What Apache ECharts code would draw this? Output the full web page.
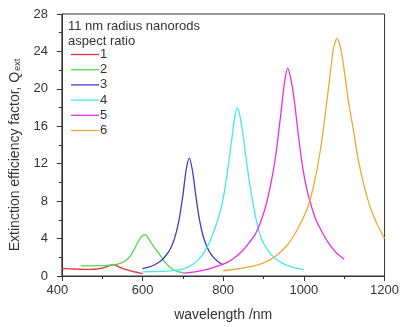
<!DOCTYPE html>
<html><head><meta charset="utf-8">
<script src="https://cdn.jsdelivr.net/npm/echarts@6/dist/echarts.min.js"></script>
<style>html,body{margin:0;padding:0;background:#fff}#c{width:402px;height:327px}</style>
</head><body><div id="c"></div>
<script>
var seriesNames = ['1','2','3','4','5','6'];
var colors = ['#e8303a','#4ddc4d','#3c3cc4','#40ecec','#ec2cec','#f0aa30'];
var xTicks = [400,600,800,1000,1200];
var yTicks = [0,4,8,12,16,20,24,28];

var wl1 = [400,420,440,460,480,500,510,518,525,532,540,550,560,570,580,590,600];
var q1  = [0.8,0.77,0.73,0.7,0.72,0.85,0.98,1.12,1.22,1.15,1.0,0.82,0.68,0.55,0.45,0.35,0.25];

var wl2 = [447,470,500,520,535,545,555,565,572,580,587,594,600,606,612,618,625,632,640,648,656,664,672,680,690,700];
var q2  = [1.09,1.09,1.1,1.15,1.25,1.35,1.55,1.9,2.3,2.9,3.5,4.0,4.3,4.43,4.2,3.8,3.3,2.9,2.45,1.95,1.45,1.1,0.8,0.6,0.45,0.35];

var wl3 = [600,615,630,645,660,670,680,690,700,708,716,724,732,740,750,760,770,780,790,800];
var q3  = [0.8,0.95,1.2,1.6,2.3,3.0,4.1,5.9,8.6,11.3,12.6,11.2,8.6,6.3,4.3,3.1,2.3,1.8,1.45,1.2];

var wl4 = [600,630,660,690,710,725,740,752,765,778,790,800,810,820,828,835,842,850,860,870,880,890,900,915,930,945,960,980,1000];
var q4  = [0.45,0.47,0.52,0.65,0.9,1.25,1.8,2.5,3.5,4.9,6.5,8.3,11.0,14.2,16.8,18.0,17.0,14.8,11.5,8.7,6.4,4.6,3.5,2.5,1.85,1.4,1.1,0.85,0.7];

var wl5 = [700,730,760,790,810,830,850,865,880,893,905,917,930,942,952,960,968,977,987,997,1007,1017,1030,1045,1060,1080,1100];
var q5  = [0.3,0.45,0.7,1.1,1.45,2.0,2.8,3.6,4.5,5.8,7.4,9.6,12.8,17.0,20.7,22.2,21.0,18.5,14.8,11.6,9.3,7.7,6.0,4.7,3.6,2.5,1.8];

var wl6 = [800,830,860,890,915,935,955,975,995,1010,1025,1040,1052,1063,1073,1082,1091,1100,1110,1122,1135,1150,1165,1182,1200];
var q6  = [0.56,0.72,0.95,1.25,1.7,2.3,3.1,4.3,5.9,7.4,9.8,13.2,16.9,20.8,24.2,25.4,24.4,22.0,18.8,15.8,12.4,9.5,7.3,5.5,4.0];

var allWl = [wl1,wl2,wl3,wl4,wl5,wl6];
var allQ = [q1,q2,q3,q4,q5,q6];

function zip(a,b){ return a.map(function(v,i){ return [v,b[i]]; }); }

var font = 'Liberation Sans, Arial, sans-serif';
var txt = '#333';

var chart = echarts.init(document.getElementById('c'), null, {renderer:'canvas'});
chart.setOption({
  animation:false,
  backgroundColor:'#fff',
  grid:{left:57,right:17,top:14,bottom:48,show:true,borderColor:'#333',borderWidth:1,backgroundColor:'transparent'},
  title:{text:'11 nm radius nanorods\naspect ratio',left:68,top:19,padding:0,
    textStyle:{fontFamily:font,fontSize:13,fontWeight:'normal',color:txt,lineHeight:15}},
  legend:{orient:'vertical',left:66,top:43,itemWidth:28,itemHeight:13,itemGap:2.2,
    icon:'path://M0,0L28,0L28,1.3L0,1.3Z',
    data:seriesNames,
    textStyle:{fontFamily:font,fontSize:13,color:txt,padding:[0,0,0,-4]}},
  xAxis:{type:'value',min:400,max:1200,interval:200,
    name:'wavelength /nm',nameLocation:'middle',nameGap:32,
    nameTextStyle:{fontFamily:font,fontSize:14,color:txt},
    axisLine:{lineStyle:{color:'#333',width:1}},
    axisTick:{show:true,length:5,inside:false,lineStyle:{color:'#333'}},
    minorTick:{show:true,splitNumber:2,length:3,lineStyle:{color:'#333'}},
    splitLine:{show:false},
    axisLabel:{fontFamily:font,fontSize:13,color:txt,margin:8,
      alignMinLabel:'center',alignMaxLabel:'center',hideOverlap:false,
      rich:{first:{fontFamily:font,fontSize:13,color:txt,padding:[0,9,0,0]}},
      formatter:function(v){
        if (xTicks.indexOf(v) < 0) return '';
        return v === xTicks[0] ? '{first|' + v + '}' : String(v);
      }}},
  yAxis:{type:'value',min:0,max:28,interval:4,
    name:'Extinction efficiency factor, Q{s|ext}',nameLocation:'middle',nameGap:35,
    nameTextStyle:{fontFamily:font,fontSize:14,color:txt,padding:[0,20,0,0],
      rich:{s:{fontFamily:font,fontSize:9,color:txt,verticalAlign:'bottom',padding:[6,0,0,1]}}},
    axisLine:{show:true,lineStyle:{color:'#333',width:1}},
    axisTick:{show:true,length:5,lineStyle:{color:'#333'}},
    minorTick:{show:true,splitNumber:2,length:3,lineStyle:{color:'#333'}},
    splitLine:{show:false},
    axisLabel:{fontFamily:font,fontSize:13,color:txt,margin:14,
      formatter:function(v){ return yTicks.indexOf(v)>=0 ? String(v) : ''; }}},
  series: seriesNames.map(function(n,i){
    return {name:n,type:'line',data:zip(allWl[i],allQ[i]),smooth:0.25,
      symbol:'none',showSymbol:false,color:colors[i],
      lineStyle:{width:1.3,color:colors[i]}};
  })
});
</script></body></html>
